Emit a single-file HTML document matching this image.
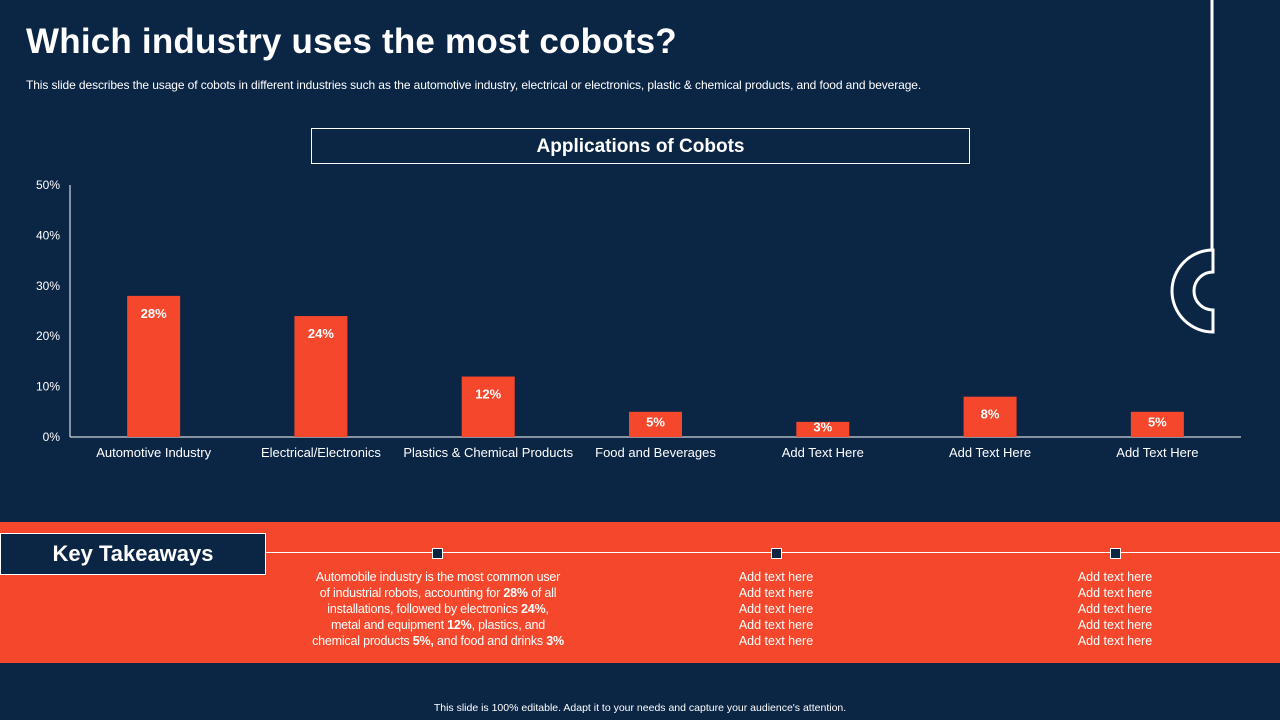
<!DOCTYPE html>
<html><head><meta charset="utf-8"><style>
body{margin:0;width:1280px;height:720px;background:#0b2545;font-family:"Liberation Sans",sans-serif;color:#fff;position:relative;overflow:hidden}
.a{position:absolute}
</style></head><body>
<div class="a" style="left:26px;top:22px;font-size:35px;font-weight:bold;letter-spacing:0.2px">Which industry uses the most cobots?</div>
<div class="a" style="left:26px;top:78px;font-size:12px;letter-spacing:-0.1px">This slide describes the usage of cobots in different industries such as the automotive industry, electrical or electronics, plastic &amp; chemical products, and food and beverage.</div>
<div class="a" style="left:311px;top:128px;width:657px;height:34px;border:1.5px solid #fff;text-align:center;line-height:36px;font-size:19px;font-weight:bold">Applications of Cobots</div>
<svg class="a" style="left:0;top:0" width="1280" height="720">
<line x1="1212" y1="0" x2="1212" y2="250" stroke="#fff" stroke-width="3"/>
<path d="M1213 250 A41 41 0 0 0 1213 332 L1213 310 A19 19 0 0 1 1213 272 Z" fill="none" stroke="#fff" stroke-width="3"/>
</svg>
<svg id="chart" class="a" style="left:0;top:0" width="1280" height="520"></svg>
<div class="a" style="left:0;top:522px;width:1280px;height:141px;background:#f4472b"></div>
<div class="a" style="left:265px;top:552px;width:1015px;height:1px;background:#fff"></div>
<div class="a" style="left:0;top:533px;width:264px;height:40px;background:#0b2545;border:1.5px solid #fff;text-align:center;line-height:40px;font-size:22px;font-weight:bold">Key Takeaways</div>
<div class="a" style="left:432px;top:548px;width:9px;height:9px;background:#0b2545;border:1px solid #fff"></div>
<div class="a" style="left:771px;top:548px;width:9px;height:9px;background:#0b2545;border:1px solid #fff"></div>
<div class="a" style="left:1110px;top:548px;width:9px;height:9px;background:#0b2545;border:1px solid #fff"></div>
<div class="a" style="left:258px;top:569px;width:360px;text-align:center;font-size:12.5px;line-height:16px;letter-spacing:-0.2px">Automobile industry is the most common user<br>of industrial robots, accounting for <b>28%</b> of all<br>installations, followed by electronics <b>24%</b>,<br>metal and equipment <b>12%</b>, plastics, and<br>chemical products <b>5%,</b> and food and drinks <b>3%</b></div>
<div class="a" style="left:676px;top:569px;width:200px;text-align:center;font-size:12.5px;line-height:16px">Add text here<br>Add text here<br>Add text here<br>Add text here<br>Add text here</div>
<div class="a" style="left:1015px;top:569px;width:200px;text-align:center;font-size:12.5px;line-height:16px">Add text here<br>Add text here<br>Add text here<br>Add text here<br>Add text here</div>
<div class="a" style="left:0;top:702px;width:1280px;text-align:center;font-size:10.5px">This slide is 100% editable. Adapt it to your needs and capture your audience's attention.</div>
<script>
const categories=["Automotive Industry","Electrical/Electronics","Plastics & Chemical Products","Food and Beverages","Add Text Here","Add Text Here","Add Text Here"];
const values=[28,24,12,5,3,8,5];
const ticks=[0,10,20,30,40,50];
const svg=document.getElementById('chart');
const NS="http://www.w3.org/2000/svg";
const x0=70,x1=1241,yb=437,yt=185,max=50;
const y=v=>yb-(v/max)*(yb-yt);
const bw=(x1-x0)/categories.length;
const xc=i=>x0+bw*(i+0.5);
function mk(t,a){const e=document.createElementNS(NS,t);for(const k in a)e.setAttribute(k,a[k]);svg.appendChild(e);return e;}
let ax=mk('line',{x1:x0,y1:yt,x2:x0,y2:yb,stroke:'#fff','stroke-width':1});


let bx=mk('line',{x1:x0,y1:yb,x2:x1,y2:yb,stroke:'#fff','stroke-width':1});


ticks.forEach(t=>{let e=mk('text',{x:60,y:y(t)+4,fill:'#fff','font-size':12,'text-anchor':'end'});e.textContent=t+'%';

});
values.forEach((v,i)=>{
const top=y(v),h=yb-top;
let r=mk('rect',{x:xc(i)-26.5,y:top,width:53,height:h,fill:'#f4472b'});


let l=mk('text',{x:xc(i),y:Math.min(top+22,top+h/2+2),fill:'#fff','font-size':13,'font-weight':'bold','text-anchor':'middle'});l.textContent=v+'%';


let c=mk('text',{x:xc(i),y:457,fill:'#fff','font-size':13,'text-anchor':'middle'});c.textContent=categories[i];


});
</script>
</body></html>
